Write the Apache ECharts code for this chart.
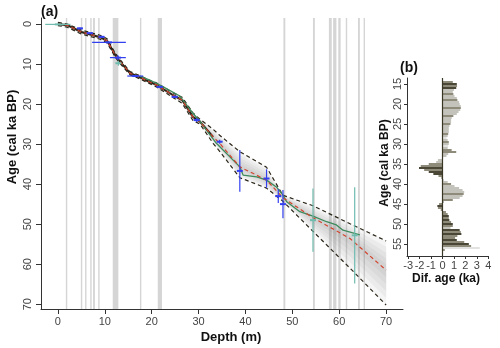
<!DOCTYPE html>
<html><head><meta charset="utf-8">
<script src="https://cdn.jsdelivr.net/npm/echarts@6/dist/echarts.min.js"></script>
<style>html,body{margin:0;padding:0;background:#fff}#c{width:500px;height:348px}</style>
</head><body><div id="c"></div>
<script>
// ---------- DATA ----------
const depthTicks = [0, 10, 20, 30, 40, 50, 60, 70];
const ageTicksA = [0, 10, 20, 30, 40, 50, 60, 70];
const ageTicksB = [15, 20, 25, 30, 35, 40, 45, 50, 55];
const difTicks = [-3, -2, -1, 0, 1, 2, 3, 4];

// age-depth model (depth m, age ka)
const modelDepth  = [0, 2, 5, 9, 10.5, 12.2, 13, 15.4, 17.5, 19.6, 21, 24.6, 26.5, 28.8, 30.3, 33.1, 34.5, 38.8, 44.5, 48, 54.4, 62.3, 70];
const modelMedian = [0, 0.3, 2, 3.3, 4.2, 7.7, 9, 12.3, 13.3, 14.5, 15.2, 17.8, 19, 23.2, 24.4, 28.2, 29.8, 35.7, 39, 43.4, 48.4, 53.6, 61.5];
const modelYoung  = [-0.4, 0, 1.5, 2.8, 3.7, 7.2, 8.5, 11.9, 12.9, 14.1, 14.7, 17.2, 18.3, 22.2, 23.8, 26.3, 27.8, 31.9, 35.8, 42.8, 45.4, 49.9, 54.2];
const modelOld    = [0.4, 0.8, 2.5, 3.8, 4.7, 8.2, 9.5, 12.7, 13.7, 14.9, 15.7, 18.4, 19.8, 24.1, 25.0, 29.8, 31.8, 38.4, 41.0, 44.3, 51.8, 61.0, 70.2];

// alternative model (green)
const greenDepth = [17.5, 19.6, 22, 26, 28.8, 30.3, 33.8, 38.8, 39.5, 42.4, 44.5, 46.6, 48, 48.8, 51.6, 54.4, 57.3, 59.4, 60.8, 64.4];
const greenAge   = [13.0, 14.0, 15.4, 18.0, 22.3, 24.3, 29.8, 35.7, 37.75, 38.2, 39.0, 40.7, 42.75, 44.4, 46.9, 48.0, 49.4, 50.2, 51.5, 52.7];

// dated samples (blue)
const datedDepth    = [4.7, 6.8, 9.3, 10.9, 12.8, 16.5, 21.7, 24.9, 29.6, 34.5, 38.8, 44.5, 47.0, 48.0];
const datedAge      = [1.1, 2.3, 3.2, 4.6, 8.4, 13.0, 15.7, 18.2, 24.0, 29.4, 36.7, 38.6, 43.0, 45.0];
const datedDepthErr = [0.6, 0.6, 0.6, 3.6, 1.7, 1.7, 0.6, 0.6, 0.6, 0.4, 0, 0, 0, 0];
const datedAgeErr   = [0.2, 0.2, 0.2, 0, 0.6, 0.2, 0.2, 0.3, 0.5, 0.5, 5.2, 2.3, 1.7, 3.5];

// other dates (teal)
const otherDepth    = [0.0, 12.9, 54.4, 63.3];
const otherAge      = [0.1, 9.8, 49.0, 52.8];
const otherDepthErr = [2.7, 0, 0, 0];
const otherAgeErr   = [0, 0.6, 7.9, 12.0];

// grey depth intervals
const hiatusStart = [1.7, 4.9, 5.8, 6.9, 7.5, 8.6, 11.7, 17.5, 21.3, 48.1, 54.4, 57.8, 58.7, 59.8, 61.4, 64.0, 65.2];
const hiatusEnd   = [2.0, 5.2, 6.1, 7.2, 7.9, 8.9, 12.9, 17.8, 22.2, 48.5, 54.8, 58.4, 59.4, 60.3, 61.7, 64.4, 65.5];

// panel (b): age difference
const difAge = [14.5,15,15.5,16,16.5,17,17.5,18,18.5,19,19.5,20,20.5,21,21.5,22,22.5,23,23.5,24,24.5,25,25.5,26,26.5,27,27.5,28,28.5,29,29.5,30,30.5,31,31.5,32,32.5,33,33.5,34,34.5,35,35.5,36,36.5,37,37.5,38,38.5,39,39.5,40,40.5,41,41.5,42,42.5,43,43.5,44,44.5,45,45.5,46,46.5,47,47.5,48,48.5,49,49.5,50,50.5,51,51.5,52,52.5,53,53.5,54,54.5,55,55.5,56,56.5];
const difValue = [0.9,1.25,1.27,1.2,1.0,0.9,0.95,1.05,1.25,1.3,
  1.45,1.5,1.6,1.6,1.55,1.4,1.25,0.95,0.8,0.75,
  0.75,0.7,0.6,0.55,0.55,0.55,0.5,0.45,0.35,0.45,
  0.55,0.55,0.5,0.45,0.8,1.2,0.5,0.35,0.05,-0.4,
  -0.55,-1.2,-1.9,-2.05,-1.6,-1.2,-0.8,-0.35,-0.1,0.1,
  0.45,0.75,1.05,1.45,1.75,1.9,1.85,1.75,1.5,0.9,
  0.1,-0.3,-0.45,-0.4,-0.15,0.3,0.45,0.55,0.55,0.6,
  0.75,0.9,0.9,0.7,1.5,1.6,1.65,1.3,1.1,1.25,
  1.9,2.3,2.5,3.25,0.2];

// ---------- STYLE ----------
const barTone = [1,0,1,0,2,2,1,2,2,1, 2,2,2,1,2,2,2,1,2,2, 2,1,2,2,2,2,1,2,3,2, 1,2,3,2,1,1,2,2,2,2,
  2,1,1,0,1,0,0,1,1,2, 2,1,2,2,2,2,1,2,2,1, 1,1,0,1,1,1,1,0,1,0, 1,0,1,2,0,1,0,1,1,0, 1,0,1,3,1];
const tonePalette = ['#4b4737', '#8e8b7b', '#c3c3bb', '#e2e2e0'];
const FONT = 'Liberation Sans, Arial, sans-serif';
const AX = '#333';
const LAB = '#444';

const chart = echarts.init(document.getElementById('c'), null, {renderer: 'canvas'});

function errItem(stroke) {
  return function (params, api) {
    const d = api.value(0), a = api.value(1), de = api.value(2), ae = api.value(3);
    const ch = [];
    if (de > 0) {
      const p1 = api.coord([d - de, a]), p2 = api.coord([d + de, a]);
      ch.push({type: 'line', shape: {x1: p1[0], y1: p1[1], x2: p2[0], y2: p2[1]}, style: {stroke, lineWidth: 1.2}});
    }
    if (ae > 0) {
      const p1 = api.coord([d, a - ae]), p2 = api.coord([d, a + ae]);
      ch.push({type: 'line', shape: {x1: p1[0], y1: p1[1], x2: p2[0], y2: p2[1]}, style: {stroke, lineWidth: 1.2}});
    }
    const c = api.coord([d, a]);
    ch.push({type: 'line', shape: {x1: c[0] - 3, y1: c[1], x2: c[0] + 3, y2: c[1]}, style: {stroke, lineWidth: 2}});
    return {type: 'group', children: ch};
  };
}

const option = {
  animation: false,
  backgroundColor: '#fff',
  textStyle: {fontFamily: FONT},
  grid: [
    {left: 41, top: 18, width: 362, height: 291, containLabel: false},
    {left: 407, top: 78, width: 81.3, height: 178, containLabel: false}
  ],
  xAxis: [
    {type: 'value', gridIndex: 0, min: -3.6, max: 73.6,
     axisLine: {show: true, onZero: false, lineStyle: {color: AX, width: 1}},
     axisTick: {show: true, length: 5, customValues: depthTicks, lineStyle: {color: AX}},
     axisLabel: {customValues: depthTicks, fontSize: 11, color: LAB, margin: 7, fontFamily: FONT},
     splitLine: {show: false}},
    {type: 'value', gridIndex: 1, min: -3.1, max: 4,
     axisLine: {show: true, onZero: false, lineStyle: {color: AX, width: 1}},
     axisTick: {show: true, length: 3, customValues: difTicks, lineStyle: {color: AX}},
     axisLabel: {customValues: difTicks, fontSize: 11, color: LAB, margin: 4, fontFamily: FONT},
     splitLine: {show: false}}
  ],
  yAxis: [
    {type: 'value', gridIndex: 0, inverse: true, min: -1.5, max: 71.2,
     axisLine: {show: true, onZero: false, lineStyle: {color: AX, width: 1}},
     axisTick: {show: true, length: 5, customValues: ageTicksA, lineStyle: {color: AX}},
     axisLabel: {customValues: ageTicksA, rotate: 90, fontSize: 11, color: LAB, margin: 8, fontFamily: FONT},
     splitLine: {show: false}},
    {type: 'value', gridIndex: 1, inverse: true, min: 13.5, max: 58,
     axisLine: {show: true, onZero: false, lineStyle: {color: AX, width: 1}},
     axisTick: {show: true, length: 3, customValues: ageTicksB, lineStyle: {color: AX}},
     axisLabel: {customValues: ageTicksB, rotate: 90, fontSize: 11, color: LAB, margin: 4, fontFamily: FONT},
     splitLine: {show: false}}
  ],
  series: [
    // grey depth intervals
    {type: 'custom', xAxisIndex: 0, yAxisIndex: 0, silent: true, z: 1,
     data: hiatusStart.map((s, i) => [s, hiatusEnd[i]]),
     renderItem: function (params, api) {
       const cs = params.coordSys;
       const p1 = api.coord([api.value(0), 0]);
       const p2 = api.coord([api.value(1), 0]);
       return {type: 'rect', shape: {x: p1[0], y: cs.y, width: Math.max(p2[0] - p1[0], 1.3), height: cs.height},
               style: {fill: '#d5d5d5'}};
     }},
    // uncertainty shading
    {type: 'custom', xAxisIndex: 0, yAxisIndex: 0, silent: true, z: 2,
     data: [[0, 0]],
     renderItem: function (params, api) {
       const layers = [1, 0.8, 0.6, 0.4, 0.2];
       const children = layers.map(f => {
         const pts = [];
         for (let i = 0; i < modelDepth.length; i++)
           pts.push(api.coord([modelDepth[i], modelMedian[i] - f * (modelMedian[i] - modelYoung[i])]));
         for (let i = modelDepth.length - 1; i >= 0; i--)
           pts.push(api.coord([modelDepth[i], modelMedian[i] + f * (modelOld[i] - modelMedian[i])]));
         return {type: 'polygon', shape: {points: pts}, style: {fill: 'rgba(110,110,110,0.07)'}};
       });
       return {type: 'group', children};
     }},
    // bounds
    {type: 'line', xAxisIndex: 0, yAxisIndex: 0, z: 4, showSymbol: false, silent: true,
     data: modelDepth.map((d, i) => [d, modelYoung[i]]),
     lineStyle: {color: '#2b2619', width: 1.2, type: [4, 3]}},
    {type: 'line', xAxisIndex: 0, yAxisIndex: 0, z: 4, showSymbol: false, silent: true,
     data: modelDepth.map((d, i) => [d, modelOld[i]]),
     lineStyle: {color: '#2b2619', width: 1.2, type: [4, 3]}},
    // best fit solid black (upper part)
    {type: 'line', xAxisIndex: 0, yAxisIndex: 0, z: 5, showSymbol: false, silent: true,
     data: modelDepth.slice(0, 16).map((d, i) => [d, modelMedian[i]]),
     lineStyle: {color: '#2a2418', width: 2}},
    // green model
    {type: 'line', xAxisIndex: 0, yAxisIndex: 0, z: 6, showSymbol: false, silent: true,
     data: greenDepth.map((d, i) => [d, greenAge[i]]),
     lineStyle: {color: '#3d8a5c', width: 1.3}},
    // median red dashed
    {type: 'line', xAxisIndex: 0, yAxisIndex: 0, z: 7, showSymbol: false, silent: true,
     data: modelDepth.map((d, i) => [d, modelMedian[i]]),
     lineStyle: {color: '#d2442e', width: 1.2, type: [4, 3]}},
    // dated samples
    {type: 'custom', xAxisIndex: 0, yAxisIndex: 0, z: 8, silent: true,
     data: datedDepth.map((d, i) => [d, datedAge[i], datedDepthErr[i], datedAgeErr[i]]),
     renderItem: errItem('#3340f0')},
    {type: 'custom', xAxisIndex: 0, yAxisIndex: 0, z: 8, silent: true,
     data: otherDepth.map((d, i) => [d, otherAge[i], otherDepthErr[i], otherAgeErr[i]]),
     renderItem: errItem('#6fbcae')},
    // panel b bars
    {type: 'custom', xAxisIndex: 1, yAxisIndex: 1, z: 3, silent: true,
     data: difAge.map((a, i) => [difValue[i], a]),
     renderItem: function (params, api) {
       const v = api.value(0), a = api.value(1);
       const p0 = api.coord([0, a - 0.25]);
       const p1 = api.coord([v, a + 0.25]);
       return {type: 'rect',
               shape: {x: Math.min(p0[0], p1[0]), y: Math.min(p0[1], p1[1]), width: Math.abs(p1[0] - p0[0]), height: Math.abs(p1[1] - p0[1])},
               style: {fill: tonePalette[barTone[params.dataIndex]]}};
     },
     markLine: {silent: true, symbol: 'none', label: {show: false}, animation: false,
                lineStyle: {color: '#3a3626', type: 'solid', width: 1.2}, data: [{xAxis: 0}]}}
  ],
  graphic: [
    {type: 'text', x: 41, y: 12, style: {text: '(a)', font: 'bold 14px ' + FONT, fill: '#111', align: 'left', verticalAlign: 'middle'}},
    {type: 'text', x: 12, y: 137, rotation: Math.PI / 2, style: {text: 'Age (cal ka BP)', font: 'bold 13px ' + FONT, fill: '#111', align: 'center', verticalAlign: 'middle'}},
    {type: 'text', x: 231, y: 337, style: {text: 'Depth (m)', font: 'bold 13px ' + FONT, fill: '#111', align: 'center', verticalAlign: 'middle'}},
    {type: 'text', x: 400, y: 68, style: {text: '(b)', font: 'bold 14px ' + FONT, fill: '#111', align: 'left', verticalAlign: 'middle'}},
    {type: 'text', x: 385, y: 163, rotation: Math.PI / 2, style: {text: 'Age (cal ka BP)', font: 'bold 12px ' + FONT, fill: '#111', align: 'center', verticalAlign: 'middle'}},
    {type: 'text', x: 446, y: 279, style: {text: 'Dif. age (ka)', font: 'bold 12px ' + FONT, fill: '#111', align: 'center', verticalAlign: 'middle'}}
  ]
};
chart.setOption(option);
</script>
</body></html>
